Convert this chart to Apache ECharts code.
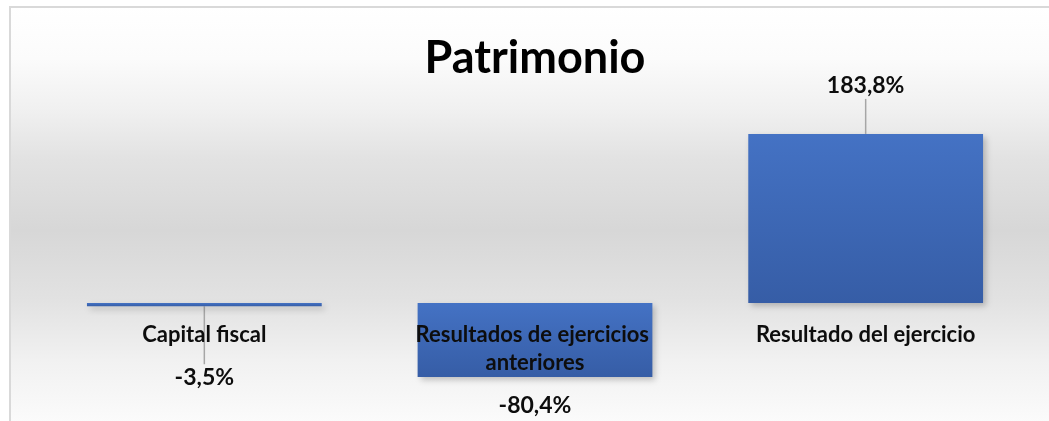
<!DOCTYPE html>
<html>
<head>
<meta charset="utf-8">
<script src="https://cdn.jsdelivr.net/npm/echarts@6/dist/echarts.min.js"></script>
<style>
  html, body { margin: 0; padding: 0; background: #fff; }
  #main { width: 1049px; height: 421px; }
</style>
</head>
<body>
<div id="main"></div>
<script>
// data
var categories = ['Capital fiscal', 'Resultados de ejercicios anteriores', 'Resultado del ejercicio'];
var values = [-3.5, -80.4, 183.8];

var myChart = echarts.init(document.getElementById('main'), null, { renderer: 'canvas' });

var fontFamily = 'Lato';

var barColor = new echarts.graphic.LinearGradient(0, 0, 0, 1, [
  { offset: 0, color: '#4472c4' },
  { offset: 1, color: '#365da6' }
]);

// per-bar value label distance and leader line length
var labelCfg = [
  { distance: 58, line: 50 },
  { distance: 16, line: 0 },
  { distance: 35, line: 30 }
];

var seriesData = values.map(function (v, i) {
  return {
    value: v,
    label: { distance: labelCfg[i].distance },
    labelLine: { show: labelCfg[i].line > 0 }
  };
});

function fmt(v) {
  return v.toFixed(1).replace('.', ',') + '%';
}

var option = {
  backgroundColor: '#ffffff',
  animation: false,
  title: {
    text: 'Patrimonio',
    left: 535,
    top: 36,
    padding: 0,
    textAlign: 'center',
    textStyle: { fontFamily: fontFamily, fontSize: 45, fontWeight: 'bold', color: '#000' }
  },
  graphic: [
    {
      type: 'rect',
      silent: true,
      z: -10,
      shape: { x: 10, y: 7, width: 1045, height: 430 },
      style: {
        stroke: '#d9d9d9',
        lineWidth: 2,
        fill: new echarts.graphic.LinearGradient(0, 0, 0, 1, [
          { offset: 0, color: '#ffffff' },
          { offset: 0.123, color: '#fbfbfb' },
          { offset: 0.24, color: '#f0f0f0' },
          { offset: 0.356, color: '#e2e2e2' },
          { offset: 0.519, color: '#d7d7d7' },
          { offset: 0.681, color: '#e2e2e2' },
          { offset: 0.821, color: '#f1f1f1' },
          { offset: 0.963, color: '#fbfbfb' },
          { offset: 1, color: '#fcfcfc' }
        ])
      }
    }
  ],
  grid: { left: 39, right: 18, top: 119, height: 276, outerBoundsMode: 'none', containLabel: false },
  xAxis: {
    type: 'category',
    data: categories,
    z: 10,
    offset: -92,
    axisLine: { show: false, onZero: false },
    axisTick: { show: false },
    axisLabel: {
      interval: 0,
      margin: 18,
      width: 250,
      overflow: 'break',
      lineHeight: 28,
      fontFamily: fontFamily,
      fontSize: 22,
      fontWeight: 'bold',
      color: '#0d0d0d'
    }
  },
  yAxis: {
    type: 'value',
    min: -100,
    max: 200,
    show: false,
    splitLine: { show: false }
  },
  series: [
    {
      type: 'bar',
      data: seriesData,
      barCategoryGap: '29%',
      itemStyle: {
        color: barColor,
        shadowColor: 'rgba(0,0,0,0.22)',
        shadowBlur: 6,
        shadowOffsetX: 3,
        shadowOffsetY: 3
      },
      label: {
        show: true,
        position: 'outside',
        formatter: function (p) { return fmt(p.value); },
        fontFamily: fontFamily,
        fontSize: 23,
        fontWeight: 'bold',
        lineHeight: 26,
        color: '#0d0d0d'
      },
      labelLine: {
        lineStyle: { color: '#a6a6a6', width: 1.5 }
      },
      // vertical leader lines from the bar edge, centred on the bar
      labelLayout: function (params) {
        var cfg = labelCfg[params.dataIndex];
        if (!cfg.line) return {};
        var r = params.rect;
        var cx = r.x + r.width / 2;
        var neg = values[params.dataIndex] < 0;
        var edge = neg ? r.y + r.height : r.y;
        var end = neg ? edge + cfg.line : edge - cfg.line;
        return { labelLinePoints: [[cx, edge], [cx, end]] };
      }
    }
  ]
};

myChart.setOption(option);
</script>
</body>
</html>
